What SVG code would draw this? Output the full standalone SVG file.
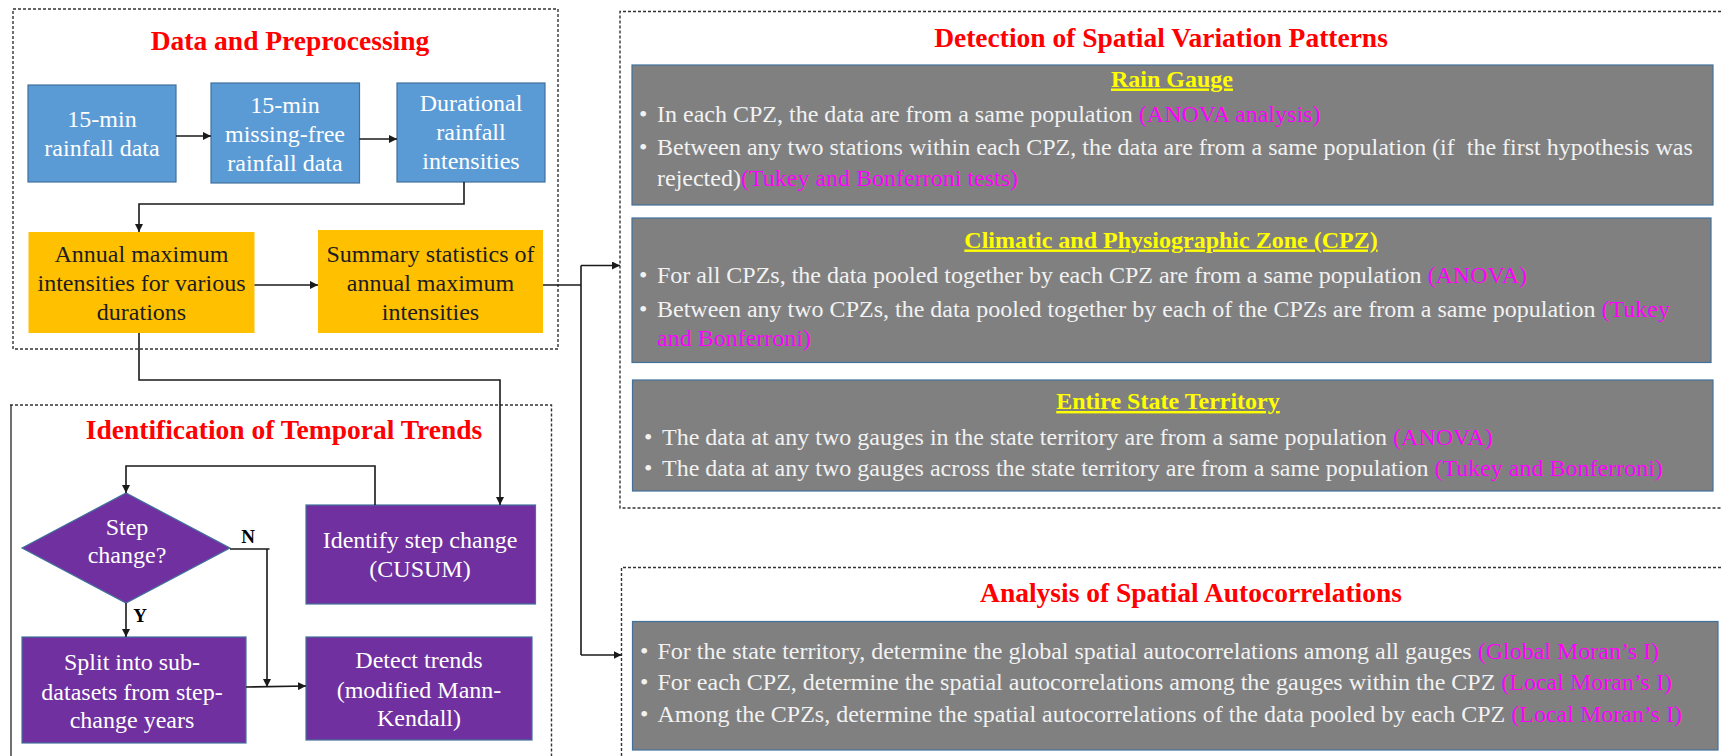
<svg xmlns="http://www.w3.org/2000/svg" width="1722" height="756" viewBox="0 0 1722 756">
  <style>
    text { font-family: "Liberation Serif", "Times New Roman", serif; }
    .frame { fill: none; stroke: #333; stroke-width: 1.4; stroke-dasharray: 3 2; }
    .title { font-size: 27.5px; font-weight: bold; fill: #FF0000; text-anchor: middle; }
    .blue { fill: #5B9BD5; stroke: #41719C; stroke-width: 1.2; }
    .orange { fill: #FFC000; stroke: none; }
    .purple { fill: #7030A0; stroke: #41719C; stroke-width: 1.2; }
    .gray { fill: #808080; stroke: #41719C; stroke-width: 1.2; }
    .wt { font-size: 24px; fill: #FFFFFF; text-anchor: middle; }
    .dk { font-size: 24px; fill: #1C1C24; text-anchor: middle; }
    .hdr { font-size: 24px; font-weight: bold; fill: #FFFF00; text-anchor: middle; text-decoration: underline; }
    .body { font-size: 24px; fill: #F2F2F2; }
    .mg { fill: #FF00FF; }
    .lbl { font-size: 19px; font-weight: bold; fill: #000; text-anchor: middle; }
    .wire { fill: none; stroke: #1a1a1a; stroke-width: 1.6; }
  </style>
  <defs>
    <marker id="arr" viewBox="0 0 10 10" refX="10" refY="5" markerWidth="5" markerHeight="5" orient="auto" markerUnits="strokeWidth">
      <path d="M0,0 L10,5 L0,10 z" fill="#1a1a1a"/>
    </marker>
  </defs>

  <rect width="1722" height="756" fill="#FFFFFF"/>

  <!-- section frames -->
  <g id="frame-data">
    <rect class="frame" x="13" y="9" width="545" height="340"/>
    <text class="title" x="290" y="50">Data and Preprocessing</text>
  </g>
  <g id="frame-temporal">
    <path class="frame" d="M10,405 H551.5 V760"/>
    <line x1="11" y1="405" x2="11" y2="760" stroke="#333" stroke-width="1.4"/>
    <text class="title" x="284" y="439">Identification of Temporal Trends</text>
  </g>
  <g id="frame-spatial">
    <path class="frame" d="M1726,11.5 H620 V508 H1726"/>
    <text class="title" x="1161" y="46.5">Detection of Spatial Variation Patterns</text>
  </g>
  <g id="frame-autocorr">
    <path class="frame" d="M1726,567.5 H621.5 V760"/>
    <text class="title" x="1191" y="602">Analysis of Spatial Autocorrelations</text>
  </g>

  <!-- preprocessing nodes -->
  <g id="raw-data">
    <rect class="blue" x="28" y="85" width="148" height="97"/>
    <text class="wt" x="102" y="127">15-min</text>
    <text class="wt" x="102" y="156">rainfall data</text>
  </g>
  <g id="missing-free">
    <rect class="blue" x="211" y="83" width="148.5" height="100"/>
    <text class="wt" x="285" y="112.5">15-min</text>
    <text class="wt" x="285" y="141.5">missing-free</text>
    <text class="wt" x="285" y="170.5">rainfall data</text>
  </g>
  <g id="durational">
    <rect class="blue" x="397" y="83" width="148" height="99"/>
    <text class="wt" x="471" y="110.5">Durational</text>
    <text class="wt" x="471" y="139.5">rainfall</text>
    <text class="wt" x="471" y="168.5">intensities</text>
  </g>
  <g id="annual-max">
    <rect class="orange" x="28.5" y="232" width="226" height="101"/>
    <text class="dk" x="141.5" y="261.5">Annual maximum</text>
    <text class="dk" x="141.5" y="290.5">intensities for various</text>
    <text class="dk" x="141.5" y="319.5">durations</text>
  </g>
  <g id="summary-stats">
    <rect class="orange" x="318" y="230" width="225" height="103"/>
    <text class="dk" x="430.5" y="261.5">Summary statistics of</text>
    <text class="dk" x="430.5" y="290.5">annual maximum</text>
    <text class="dk" x="430.5" y="319.5">intensities</text>
  </g>

  <!-- temporal trend nodes -->
  <g id="step-decision">
    <polygon class="purple" points="22,548 126,493 230,548 126,603"/>
    <text class="wt" x="127" y="535">Step</text>
    <text class="wt" x="127" y="562.5">change?</text>
  </g>
  <g id="cusum">
    <rect class="purple" x="306" y="505" width="229.5" height="99"/>
    <text class="wt" x="420" y="548">Identify step change</text>
    <text class="wt" x="420" y="577">(CUSUM)</text>
  </g>
  <g id="split">
    <rect class="purple" x="22" y="637" width="224" height="106"/>
    <text class="wt" x="132" y="670">Split into sub-</text>
    <text class="wt" x="132" y="700">datasets from step-</text>
    <text class="wt" x="132" y="728">change years</text>
  </g>
  <g id="mann-kendall">
    <rect class="purple" x="306" y="637" width="226" height="103"/>
    <text class="wt" x="419" y="668">Detect trends</text>
    <text class="wt" x="419" y="698">(modified Mann-</text>
    <text class="wt" x="419" y="726">Kendall)</text>
  </g>

  <!-- spatial variation nodes -->
  <g id="rain-gauge">
    <rect class="gray" x="632" y="65" width="1081" height="140"/>
    <text class="hdr" x="1172" y="86.5">Rain Gauge</text>
    <text class="body" x="639" y="121.5">•</text>
    <text class="body" x="657" y="121.5">In each CPZ, the data are from a same population <tspan class="mg">(ANOVA analysis)</tspan></text>
    <text class="body" x="639" y="154.5">•</text>
    <text class="body" x="657" y="154.5" xml:space="preserve">Between any two stations within each CPZ, the data are from a same population (if  the first hypothesis was</text>
    <text class="body" x="657" y="186">rejected)<tspan class="mg">(Tukey and Bonferroni tests)</tspan></text>
  </g>
  <g id="cpz">
    <rect class="gray" x="632" y="218" width="1079" height="144.5"/>
    <text class="hdr" x="1171" y="247.5">Climatic and Physiographic Zone (CPZ)</text>
    <text class="body" x="639" y="283">•</text>
    <text class="body" x="657" y="283">For all CPZs, the data pooled together by each CPZ are from a same population <tspan class="mg">(ANOVA)</tspan></text>
    <text class="body" x="639" y="316.5">•</text>
    <text class="body" x="657" y="316.5">Between any two CPZs, the data pooled together by each of the CPZs are from a same population <tspan class="mg">(Tukey</tspan></text>
    <text class="body mg" x="657" y="346">and Bonferroni)</text>
  </g>
  <g id="state-territory">
    <rect class="gray" x="632.5" y="380" width="1080.5" height="111"/>
    <text class="hdr" x="1168" y="409">Entire State Territory</text>
    <text class="body" x="644" y="445">•</text>
    <text class="body" x="662" y="445">The data at any two gauges in the state territory are from a same population <tspan class="mg">(ANOVA)</tspan></text>
    <text class="body" x="644" y="476">•</text>
    <text class="body" x="662" y="476">The data at any two gauges across the state territory are from a same population <tspan class="mg">(Tukey and Bonferroni)</tspan></text>
  </g>

  <!-- spatial autocorrelation node -->
  <g id="morans-i">
    <rect class="gray" x="632.5" y="621.5" width="1085.5" height="128.5"/>
    <text class="body" x="640" y="658.5">•</text>
    <text class="body" x="657.5" y="658.5">For the state territory, determine the global spatial autocorrelations among all gauges <tspan class="mg">(Global Moran’s I)</tspan></text>
    <text class="body" x="640" y="690">•</text>
    <text class="body" x="657.5" y="690">For each CPZ, determine the spatial autocorrelations among the gauges within the CPZ <tspan class="mg">(Local Moran’s I)</tspan></text>
    <text class="body" x="640" y="721.5">•</text>
    <text class="body" x="657.5" y="721.5">Among the CPZs, determine the spatial autocorrelations of the data pooled by each CPZ <tspan class="mg">(Local Moran’s I)</tspan></text>
  </g>

  <!-- connectors -->
  <g id="connectors">
    <line class="wire" x1="176" y1="136" x2="211" y2="136" marker-end="url(#arr)"/>
    <line class="wire" x1="359.5" y1="139" x2="397" y2="139" marker-end="url(#arr)"/>
    <path class="wire" d="M464,182 V204 H139 V232" marker-end="url(#arr)"/>
    <line class="wire" x1="254.5" y1="285" x2="318" y2="285" marker-end="url(#arr)"/>
    <path class="wire" d="M543,285 H581"/>
    <line class="wire" x1="581" y1="265.5" x2="581" y2="655"/>
    <line class="wire" x1="581" y1="265.5" x2="620" y2="265.5" marker-end="url(#arr)"/>
    <line class="wire" x1="581" y1="655" x2="621.5" y2="655" marker-end="url(#arr)"/>
    <path class="wire" d="M139,333 V380 H500 V505" marker-end="url(#arr)"/>
    <path class="wire" d="M375,505 V466 H126 V493" marker-end="url(#arr)"/>
    <line class="wire" x1="126" y1="603" x2="126" y2="637" marker-end="url(#arr)"/>
    <path class="wire" d="M230,549 H269.5 M267,549 V687" marker-end="url(#arr)"/>
    <line class="wire" x1="246" y1="687" x2="306" y2="686" marker-end="url(#arr)"/>
    <text class="lbl" x="248" y="543">N</text>
    <text class="lbl" x="140" y="622">Y</text>
  </g>
</svg>
